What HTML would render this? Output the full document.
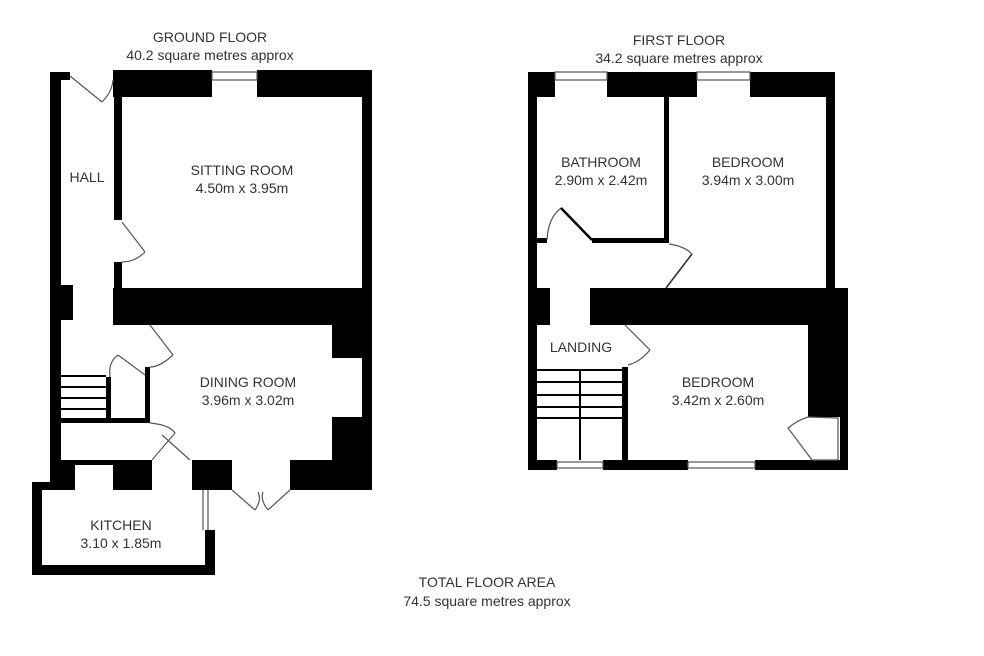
<!DOCTYPE html>
<html><head><meta charset="utf-8"><style>
html,body{margin:0;padding:0;background:#fff;}
svg{display:block;}
text{font-family:"Liberation Sans",sans-serif;font-size:14px;fill:#333;text-anchor:middle;}
</style></head><body>
<svg width="984" height="656" viewBox="0 0 984 656" xmlns="http://www.w3.org/2000/svg">
<rect width="984" height="656" fill="#fff"/>
<g fill="#000">
<rect x="50" y="72" width="11" height="418"/>
<rect x="50" y="72" width="20" height="8"/>
<rect x="113" y="70" width="99" height="27"/>
<rect x="257" y="70" width="115" height="27"/>
<rect x="362" y="70" width="10" height="420"/>
<rect x="114" y="97" width="8" height="123"/>
<rect x="114" y="262" width="8" height="28"/>
<rect x="113" y="288" width="259" height="37"/>
<rect x="60" y="285" width="13" height="35"/>
<rect x="332" y="323" width="40" height="35"/>
<rect x="332" y="417" width="40" height="73"/>
<rect x="290" y="460" width="82" height="30"/>
<rect x="192" y="460" width="40" height="30"/>
<rect x="113" y="460" width="39" height="30"/>
<rect x="50" y="460" width="25" height="30"/>
<rect x="60" y="460" width="53" height="5"/>
<rect x="145" y="367" width="5" height="56"/>
<rect x="60" y="418" width="90" height="5"/>
<rect x="106" y="377" width="5" height="43"/>
<rect x="32" y="482" width="30" height="8"/>
<rect x="32" y="482" width="10" height="93"/>
<rect x="32" y="565" width="183" height="10"/>
<rect x="205" y="530" width="10" height="45"/>
<rect x="528" y="72" width="27" height="25"/>
<rect x="528" y="72" width="9" height="398"/>
<rect x="607" y="72" width="90" height="25"/>
<rect x="750" y="72" width="85" height="25"/>
<rect x="664" y="97" width="5" height="146"/>
<rect x="592" y="238" width="77" height="5"/>
<rect x="537" y="238" width="10" height="5"/>
<rect x="826" y="72" width="9" height="220"/>
<rect x="590" y="288" width="258" height="37"/>
<rect x="808" y="290" width="40" height="127"/>
<rect x="840" y="290" width="8" height="180"/>
<rect x="537" y="288" width="13" height="37"/>
<rect x="622" y="367" width="6" height="103"/>
<rect x="528" y="460" width="29" height="10"/>
<rect x="603" y="460" width="85" height="10"/>
<rect x="755" y="460" width="93" height="10"/>
</g>
<g stroke="#000" stroke-width="2" fill="none">
<line x1="61" y1="376" x2="106" y2="376"/><line x1="61" y1="387" x2="106" y2="387"/>
<line x1="61" y1="398" x2="106" y2="398"/><line x1="61" y1="409" x2="106" y2="409"/>
<line x1="537" y1="370" x2="622" y2="370"/><line x1="537" y1="382" x2="622" y2="382"/>
<line x1="537" y1="395" x2="622" y2="395"/><line x1="537" y1="407" x2="622" y2="407"/>
<line x1="537" y1="418" x2="622" y2="418"/><line x1="580" y1="370" x2="580" y2="460"/>
</g>
<g stroke="#555" stroke-width="1.2" fill="none">
<line x1="70" y1="76" x2="102" y2="102"/><path d="M102 102 Q112 92 113 80"/>
<line x1="122" y1="222" x2="145" y2="252"/><path d="M145 252 Q135 262 122 262"/>
<line x1="150" y1="325" x2="173" y2="355"/><path d="M173 355 Q160 367 150 367"/>
<line x1="118" y1="355" x2="145" y2="375"/><path d="M118 355 Q108 362 110 377"/>
<line x1="162" y1="435" x2="190" y2="460"/><path d="M150 423 Q170 425 175 433 L152 460"/>
<line x1="232" y1="490" x2="255" y2="510"/><line x1="290" y1="490" x2="268" y2="510"/>
<path d="M255 510 Q262 500 258 492 M268 510 Q260 500 263 492"/>
<line x1="203" y1="490" x2="203" y2="530"/><line x1="208" y1="490" x2="208" y2="530"/>
<rect x="212" y="72" width="45" height="8"/><rect x="555" y="72" width="52" height="8"/>
<rect x="697" y="72" width="53" height="8"/><rect x="557" y="462" width="46" height="6"/>
<rect x="688" y="462" width="67" height="6"/>
<path d="M547 240 Q548 218 561 208"/>
<path d="M669 244 Q684 246 692 254"/>
<line x1="692" y1="254" x2="666" y2="288" stroke="#333" stroke-width="1.6"/>
<line x1="625" y1="325" x2="650" y2="350"/><path d="M650 350 Q640 362 628 365"/>
<path d="M808 417 L838 418 L838 460 L812 460 L788 428 Q798 420 808 417"/>
</g>
<line x1="561" y1="208" x2="592" y2="240" stroke="#000" stroke-width="2.5"/>
<text x="210" y="42">GROUND FLOOR</text>
<text x="210" y="60">40.2 square metres approx</text>
<text x="679" y="45">FIRST FLOOR</text>
<text x="679" y="63">34.2 square metres approx</text>
<text x="242" y="175">SITTING ROOM</text>
<text x="242" y="193">4.50m x 3.95m</text>
<text x="87" y="182">HALL</text>
<text x="248" y="387">DINING ROOM</text>
<text x="248" y="405">3.96m x 3.02m</text>
<text x="121" y="530">KITCHEN</text>
<text x="121" y="548">3.10 x 1.85m</text>
<text x="601" y="167">BATHROOM</text>
<text x="601" y="185">2.90m x 2.42m</text>
<text x="748" y="167">BEDROOM</text>
<text x="748" y="185">3.94m x 3.00m</text>
<text x="581" y="352">LANDING</text>
<text x="718" y="387">BEDROOM</text>
<text x="718" y="405">3.42m x 2.60m</text>
<text x="487" y="587">TOTAL FLOOR AREA</text>
<text x="487" y="606">74.5 square metres approx</text>
</svg>
</body></html>
